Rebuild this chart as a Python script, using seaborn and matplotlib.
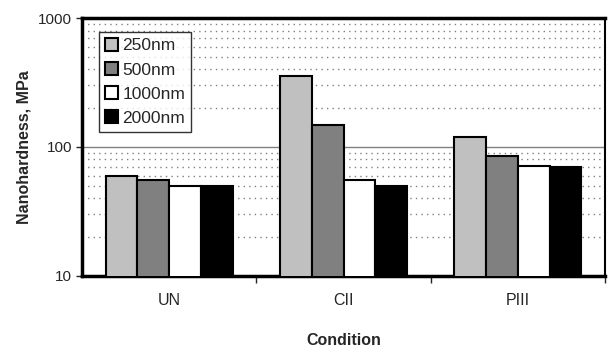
import matplotlib
matplotlib.use("Agg")
import matplotlib.pyplot as plt
import seaborn as sns
import pandas as pd
import numpy as np
from matplotlib.ticker import FixedLocator

conditions = ["UN", "CII", "PIII"]
depths = ["250nm", "500nm", "1000nm", "2000nm"]
vals_250 = [60, 357, 120]
vals_500 = [55, 149, 85]
vals_1000 = [50, 55, 71]
vals_2000 = [50, 50, 70]
colors = ["#c0c0c0", "#808080", "#ffffff", "#000000"]

rows = []
for d, vals in zip(depths, [vals_250, vals_500, vals_1000, vals_2000]):
    for c, v in zip(conditions, vals):
        rows.append({"Condition": c, "Depth": d, "Value": v})
df = pd.DataFrame(rows)

sns.set_style("white")
plt.rcParams['font.family'] = ['Liberation Sans', 'DejaVu Sans']

fig = plt.figure(figsize=(6.08, 3.47), dpi=100)
ax = fig.add_axes([0.135, 0.205, 0.86, 0.743])

ax.set_yscale("log")
sns.barplot(data=df, x="Condition", y="Value", hue="Depth", order=conditions,
            hue_order=depths, palette=colors, width=0.73, edgecolor="black",
            linewidth=1.5, ax=ax, zorder=3, saturation=1)

ax.set_ylim(10, 1000)
ax.set_xlim(-0.5, 2.5)

# grid
ax.axhline(100, color="#808080", lw=1.0, zorder=1)
for dec in [10, 100]:
    for m in range(2, 10):
        ax.axhline(dec * m, color="#808080", lw=1.0, ls=(0, (1, 3)), zorder=1)

ax.yaxis.set_major_locator(FixedLocator([10, 100, 1000]))
ax.set_yticklabels(["10", "100", "1000"])
ax.yaxis.set_minor_locator(FixedLocator([]))
ax.tick_params(axis="y", which="major", direction="out", length=4, width=1,
               labelsize=11, left=True, pad=3)

ax.set_xticks([0.5, 1.5, 2.5])
ax.set_xticklabels([])
ax.set_xticks([0, 1, 2], minor=True)
ax.set_xticklabels(conditions, minor=True)
ax.tick_params(axis="x", which="major", direction="out", length=5, width=1, bottom=True)
ax.tick_params(axis="x", which="minor", length=0, labelsize=11.5, pad=12)

for s in ["left", "top", "bottom"]:
    ax.spines[s].set_linewidth(2.5)
    ax.spines[s].set_color("black")
ax.spines["right"].set_linewidth(1.5)
ax.spines["right"].set_color("black")

ax.set_xlabel("Condition", fontsize=11.5, fontweight="bold", labelpad=18)
ax.set_ylabel("Nanohardness, MPa", fontsize=11.5, fontweight="bold", labelpad=5)

leg = ax.legend(loc="upper left", bbox_to_anchor=(0.0325, 0.946), frameon=True,
                fontsize=12.5, handlelength=0.75, handleheight=0.75, handletextpad=0.25,
                labelspacing=0.5, borderpad=0.35, fancybox=False, borderaxespad=0)
leg.get_frame().set_edgecolor("black")
leg.get_frame().set_linewidth(1.0)
leg.set_zorder(5)

fig.savefig("out.png", dpi=100)
